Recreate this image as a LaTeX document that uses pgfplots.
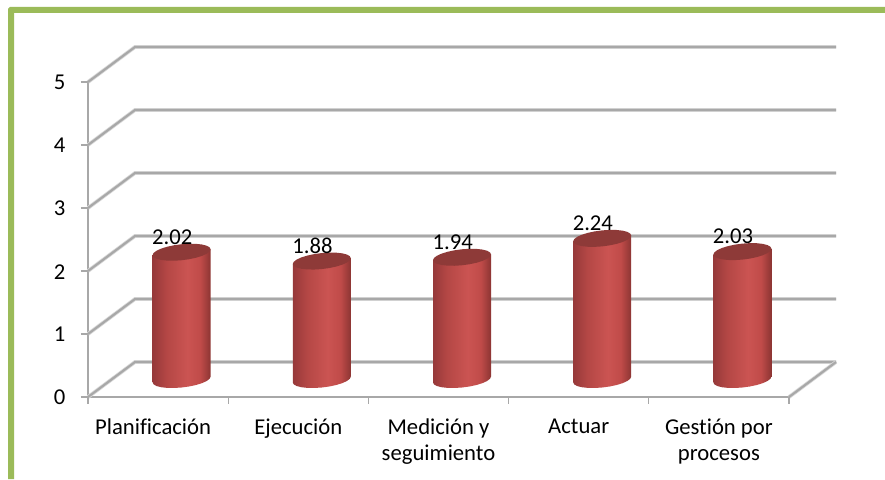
\documentclass[border=0pt]{standalone}
\usepackage{fontspec}
\setmainfont{Carlito}[Ligatures=NoCommon]
\usepackage{pgfplots}
\usepackage{pgfplotstable}
\pgfplotsset{compat=1.18}
\definecolor{framegreen}{HTML}{9BBB59}
\definecolor{gridgrey}{HTML}{A8A8A8}
\definecolor{gridhalo}{HTML}{D8D8D8}
\definecolor{capred}{HTML}{8E3A38}
\definecolor{cylA}{HTML}{96393A}
\definecolor{cylB}{HTML}{B44745}
\definecolor{cylC}{HTML}{CB5452}
\definecolor{cylD}{HTML}{C04B49}
\definecolor{cylE}{HTML}{8C3533}
\pgfdeclarehorizontalshading{cylinderbody}{100bp}{
  color(0bp)=(cylA);
  color(25bp)=(cylA);
  color(37bp)=(cylB);
  color(55bp)=(cylC);
  color(66bp)=(cylD);
  color(75bp)=(cylE);
  color(100bp)=(cylE)
}
% Outline of one cylinder, offsets in pixels from the bar's axis; h selects base or top
\pgfplotstableread{
dx dz h
-29 -2.9 0
-28 -4.87 0
-25.1 -6.51 0
-20.5 -7.71 0
-14.5 -8.38 0
-7.5 -8.48 0
0 -8 0
7.5 -6.98 0
14.5 -5.48 0
20.5 -3.61 0
25.1 -1.49 0
28 0.73 0
29 2.9 0
29 2.9 1
-29 -2.9 1
}\bodyoutline
\pgfplotstableread{
dx dz h
-29 -2.9 1
-28 -4.87 1
-25.1 -6.51 1
-20.5 -7.71 1
-14.5 -8.38 1
-7.5 -8.48 1
0 -8 1
7.5 -6.98 1
14.5 -5.48 1
20.5 -3.61 1
25.1 -1.49 1
28 0.73 1
29 2.9 1
28 4.87 1
25.1 6.51 1
20.5 7.71 1
14.5 8.38 1
7.5 8.48 1
0 8 1
-7.5 6.98 1
-14.5 5.48 1
-20.5 3.61 1
-25.1 1.49 1
-28 -0.73 1
-29 -2.9 1
}\capoutline
% One bar: #1 position along the category axis, #2 value
\newcommand{\cylinderbar}[2]{%
  \addplot3[draw=none, shade, shading=cylinderbody, no marks, forget plot]
    table[x expr={#1+\thisrow{dx}/140.2}, y expr={0.5}, z expr={\thisrow{h}*#2+\thisrow{dz}/63}] {\bodyoutline};
  \addplot3[draw=none, fill=capred, no marks, forget plot]
    table[x expr={#1+\thisrow{dx}/140.2}, y expr={0.5}, z expr={\thisrow{h}*#2+\thisrow{dz}/63}] {\capoutline};
  \node[anchor=south, inner sep=0pt, xshift=-7pt, yshift=4pt, font=\fontsize{17}{17}\selectfont] at (axis cs:#1,0.5,#2+0.03) {#2};
}
% Wall and floor lines carry a pale halo beneath a darker core
\newcommand{\wallline}[1]{%
  \addplot3[gridhalo, line width=2.8pt, no marks, forget plot] coordinates {(0,0,#1) (0,1,#1) (5,1,#1)};
  \addplot3[gridgrey, line width=1.6pt, no marks, forget plot] coordinates {(0,0,#1) (0,1,#1) (5,1,#1)};
  \addplot3[gridgrey, line width=1pt, no marks, forget plot] coordinates {(-0.05,0,#1) (0,0,#1)};
}
\newcommand{\categorytick}[1]{%
  \addplot3[gridgrey, line width=1pt, no marks, forget plot] coordinates {(#1,0,0) (#1,0,-0.11)};
}
\begin{document}
\begin{tikzpicture}[x=0.75pt,y=0.75pt]
\path[use as bounding box, fill=white] (0,0) rectangle (885,479);
\fill[framegreen] (8,0) -- (8,470) -- (10,472) -- (885,472) -- (885,466) -- (14,466) -- (14,0) -- cycle;
\begin{axis}[
  at={(66pt,61.5pt)}, anchor=origin,
  x={(105.15pt,0pt)}, y={(35.25pt,26.25pt)}, z={(0pt,47.25pt)},
  xmin=0, xmax=5, ymin=0, ymax=1, zmin=0, zmax=5,
  clip=false,
  axis lines=left,
  axis line style={gridgrey, line width=1.8pt, -},
  y axis line style={draw=none},
  ytick=\empty,
  xtick={0.5,1.5,2.5,3.5,4.5},
  xticklabels={Planificación\hspace*{7.5pt},Ejecución,{Medición y\\seguimiento},Actuar,{Gestión por\\procesos}},
  ztick={0,1,2,3,4,5},
  major tick length=0pt,
  xticklabel style={anchor=north, align=center, inner sep=0pt, yshift=-16.25pt, font=\fontsize{17}{19.5}\selectfont},
  zticklabel style={anchor=east, inner sep=0pt, xshift=-16.75pt, yshift=-0.5pt, font=\fontsize{17}{17}\selectfont},
  /pgf/number format/assume math mode=true,
]
\wallline{0}\wallline{1}\wallline{2}\wallline{3}\wallline{4}\wallline{5}
\addplot3[gridhalo, line width=2.8pt, no marks, forget plot] coordinates {(5,1,0) (5,0,0)};
\addplot3[gridgrey, line width=1.6pt, no marks, forget plot] coordinates {(5,1,0) (5,0,0)};
\categorytick{0}\categorytick{1}\categorytick{2}\categorytick{3}\categorytick{4}\categorytick{5}
\cylinderbar{0.5}{2.02}
\cylinderbar{1.5}{1.88}
\cylinderbar{2.5}{1.94}
\cylinderbar{3.5}{2.24}
\cylinderbar{4.5}{2.03}
\end{axis}
\end{tikzpicture}
\end{document}
